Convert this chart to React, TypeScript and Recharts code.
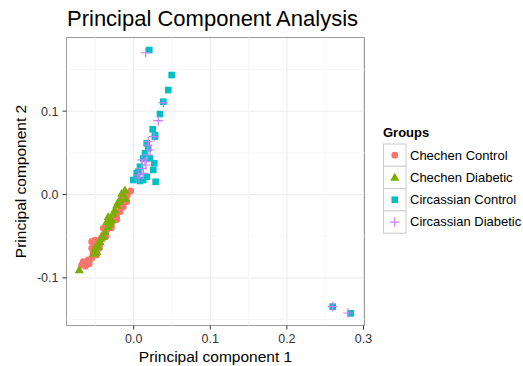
import React from 'react';
import { ScatterChart, Scatter, XAxis, YAxis, CartesianGrid, ReferenceLine, ReferenceArea, Label } from 'recharts';

const FONT = '"Liberation Sans", Arial, Helvetica, sans-serif';

const groups = ['Chechen Control', 'Chechen Diabetic', 'Circassian Control', 'Circassian Diabetic'];
const colors = ['#F8766D', '#7CAE00', '#00BFC4', '#C77CFF'];

// [PC1, PC2]
const chechenControl = [
  [-0.0039, 0.0042], [-0.0084, -0.0014], [-0.0091, -0.0086], [-0.0136, -0.0146], [-0.0179, -0.0206],
  [-0.0222, -0.0266], [-0.0266, -0.0306], [-0.0309, -0.0345], [-0.0332, -0.0386], [-0.0397, -0.0405],
  [-0.0352, -0.0425], [-0.0397, -0.0486], [-0.044, -0.0546], [-0.0483, -0.0585], [-0.0505, -0.0626],
  [-0.0527, -0.0686], [-0.0548, -0.0765], [-0.0593, -0.0785], [-0.0658, -0.0806], [-0.0679, -0.0845],
  [-0.0483, -0.0725], [-0.0449, -0.0645], [-0.0155, -0.0075], [-0.025, -0.022], [-0.042, -0.052],
  [-0.0535, -0.0735], [-0.061, -0.081], [-0.0125, -0.004], [-0.0292, -0.0365], [-0.0375, -0.047],
  [-0.0548, -0.0645], [-0.0548, -0.0566], [-0.0505, -0.0546], [-0.0136, -0.0006],
  [-0.016, -0.016], [-0.022, -0.03], [-0.029, -0.04], [-0.036, -0.05], [-0.044, -0.06],
  [-0.05, -0.07], [-0.058, -0.083], [-0.063, -0.086],
];

const chechenDiabetic = [
  [-0.071, -0.0905], [-0.0483, -0.0686], [-0.0462, -0.0626], [-0.044, -0.0566], [-0.0397, -0.0506],
  [-0.0375, -0.0446], [-0.0332, -0.0386], [-0.0309, -0.0345], [-0.0114, 0.0054], [-0.0157, 0.0014],
  [-0.0179, -0.0066], [-0.0222, -0.0126], [-0.0266, -0.0225], [-0.0309, -0.0285], [-0.0352, -0.0326],
  [-0.0332, -0.0266], [-0.0105, -0.0045], [-0.02, -0.0086], [-0.0514, -0.0705], [-0.048, -0.0606],
  [-0.0285, -0.0306], [-0.0425, -0.0525], [-0.0505, -0.065], [-0.0245, -0.0185],
];

const circassianControl = [
  [0.0204, 0.1733], [0.0496, 0.1433], [0.0452, 0.1253], [0.0387, 0.1113], [0.0343, 0.0965],
  [0.0248, 0.0782], [0.0278, 0.0713], [0.0278, 0.0693], [0.017, 0.0614], [0.019, 0.0554],
  [0.0148, 0.0494], [0.0125, 0.0434], [0.0082, 0.0333], [0.006, 0.0273], [0.0039, 0.0254],
  [-0.0005, 0.0174], [0.0125, 0.0174], [0.0287, 0.0153], [0.017, 0.0213], [0.0256, 0.0294],
  [0.0269, 0.0374], [0.0213, 0.0434], [0.0043, 0.021], [0.0082, 0.0162],
  [0.2598, -0.1345], [0.2833, -0.1425],
];

const circassianDiabetic = [
  [0.0157, 0.17], [0.0387, 0.11], [0.0321, 0.0885], [0.0265, 0.0693], [0.019, 0.0633],
  [0.0213, 0.0534], [0.0183, 0.0474], [0.0148, 0.0393], [0.0104, 0.0314], [0.006, 0.0234],
  [0.0125, 0.0254], [0.016, 0.0354], [0.0108, 0.0414], [0.0187, 0.0594], [0.0069, 0.0198],
  [0.2598, -0.1345], [0.2798, -0.1421],
];

const series = [chechenControl, chechenDiabetic, circassianControl, circassianDiabetic];

const xTicks = [0, 0.1, 0.2, 0.3];
const yTicks = [-0.1, 0, 0.1];
const xMinor = [-0.05, 0.05, 0.15, 0.25];
const yMinor = [-0.15, -0.05, 0.05, 0.15];
const xDomain = [-0.0877, 0.3013];
const yDomain = [-0.1571, 0.1883];

function Marker({ kind, cx, cy, color }: { kind: number; cx: number; cy: number; color: string }) {
  if (kind === 0) return <circle cx={cx} cy={cy} r={3.4} fill={color} />;
  if (kind === 1)
    return <polygon points={`${cx},${cy - 4.6} ${cx - 4.6},${cy + 3.4} ${cx + 4.6},${cy + 3.4}`} fill={color} />;
  if (kind === 2) return <rect x={cx - 3.3} y={cy - 3.3} width={6.6} height={6.6} fill={color} />;
  return <path d={`M${cx - 4.8},${cy}H${cx + 4.8}M${cx},${cy - 4.8}V${cy + 4.8}`} stroke={color} strokeWidth={1.2} fill="none" />;
}

export default function App() {
  return (
    <div style={{ position: 'absolute', left: 0, top: 0, width: 523, height: 366, background: '#fff', fontFamily: FONT }}>
      <ScatterChart width={523} height={366} margin={{ top: 37.5, right: 158.5, bottom: 0.5, left: 0.5 }}>
        <CartesianGrid stroke="#ebebeb" strokeWidth={1} />
        {xMinor.map((v) => (
          <ReferenceLine key={'xm' + v} x={v} stroke="#f6f6f6" strokeWidth={1} />
        ))}
        {yMinor.map((v) => (
          <ReferenceLine key={'ym' + v} y={v} stroke="#f6f6f6" strokeWidth={1} />
        ))}
        <XAxis
          type="number"
          dataKey="x"
          domain={xDomain}
          allowDataOverflow
          ticks={xTicks}
          tickFormatter={(v: number) => v.toFixed(1)}
          axisLine={false}
          tickSize={4}
          tickMargin={5}
          tickLine={{ stroke: '#333' }}
          tick={{ fill: '#333', fontSize: 12.5, fontFamily: FONT }}
          height={40}
        >
          <Label value="Principal component 1" position="insideBottom" offset={4} style={{ fontSize: 15.5, fill: '#000', fontFamily: FONT }} />
        </XAxis>
        <YAxis
          type="number"
          dataKey="y"
          domain={yDomain}
          allowDataOverflow
          ticks={yTicks}
          tickFormatter={(v: number) => v.toFixed(1)}
          axisLine={false}
          tickSize={4}
          tickMargin={4}
          tickLine={{ stroke: '#333' }}
          tick={{ fill: '#333', fontSize: 12.5, fontFamily: FONT }}
          width={66}
        >
          <Label
            value="Principal component 2"
            angle={-90}
            position="insideLeft"
            offset={20}
            style={{ textAnchor: 'middle', fontSize: 15.5, fill: '#000', fontFamily: FONT }}
          />
        </YAxis>
        {series.map((pts, i) => (
          <Scatter
            key={groups[i]}
            name={groups[i]}
            data={pts.map(([x, y]) => ({ x, y }))}
            isAnimationActive={false}
            shape={(p: any) => <Marker kind={i} cx={p.cx} cy={p.cy} color={colors[i]} />}
          />
        ))}
        <ReferenceArea x1={xDomain[0]} x2={xDomain[1]} y1={yDomain[0]} y2={yDomain[1]} fill="none" stroke="#9a9a9a" strokeWidth={1} ifOverflow="visible" />
      </ScatterChart>
      <svg width={523} height={366} style={{ position: 'absolute', left: 0, top: 0, pointerEvents: 'none' }}>
        <text x={67} y={26} fontSize={22} fontFamily={FONT} fill="#000">Principal Component Analysis</text>
        <text x={383} y={137} fontSize={13} fontWeight="bold" fontFamily={FONT} fill="#000">Groups</text>
        {groups.map((g, i) => {
          const top = 144 + i * 22.3;
          return (
            <g key={g}>
              <rect x={383.5} y={top} width={22.5} height={22.3} fill="#fff" stroke="#cccccc" strokeWidth={1} />
              <Marker kind={i} cx={394.75} cy={top + 11.15} color={colors[i]} />
              <text x={410} y={top + 15.5} fontSize={13} fontFamily={FONT} fill="#000">{g}</text>
            </g>
          );
        })}
      </svg>
    </div>
  );
}
